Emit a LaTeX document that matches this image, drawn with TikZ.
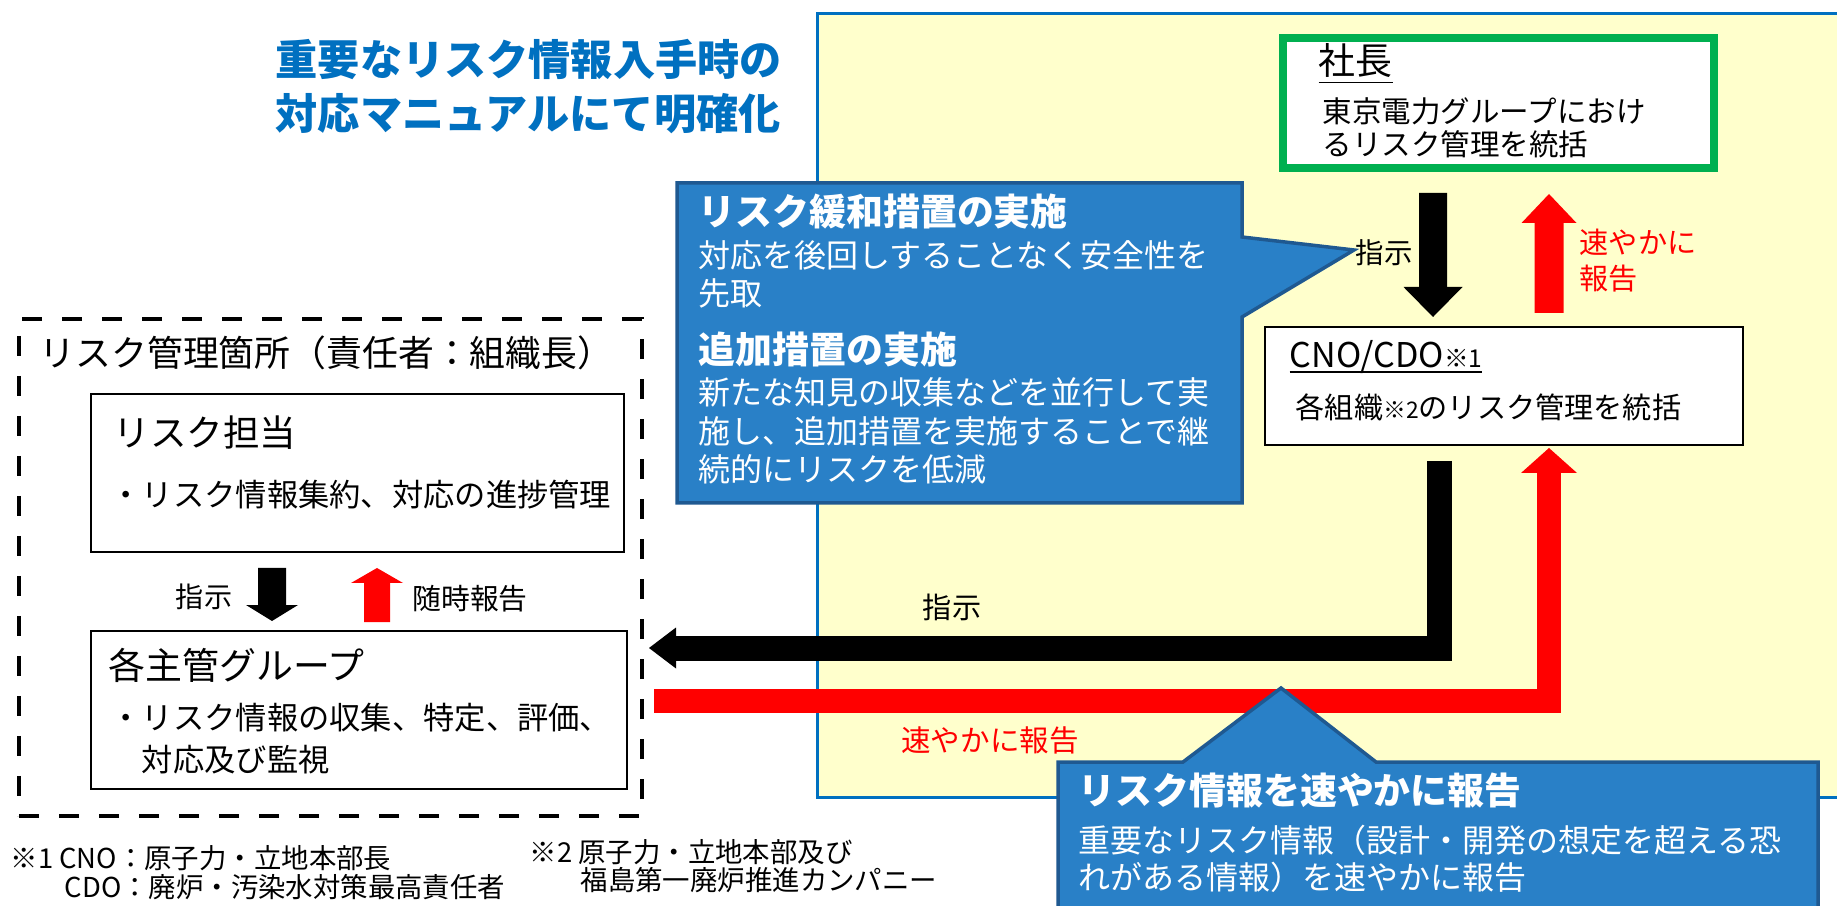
\documentclass[tikz,border=0pt]{standalone}
\usepackage{fontspec}
\setmainfont{Noto Sans CJK JP}
\usetikzlibrary{arrows.meta,positioning}

\definecolor{titleblue}{RGB}{0,112,192}
\definecolor{areayellow}{RGB}{255,255,204}
\definecolor{calloutfill}{RGB}{41,128,199}
\definecolor{calloutdraw}{RGB}{31,89,145}
\definecolor{shachogreen}{RGB}{0,176,80}
\definecolor{hokokured}{RGB}{255,0,0}

\newcommand{\jisize}[2]{\fontsize{#1}{#2}\selectfont}

\tikzset{
	%Define style for boxes
	waku/.style={
		rectangle,
		draw=black, line width=0.2mm,
		fill=white,
		outer sep=0pt, inner sep=0pt},
	kasho/.style={
		rectangle,
		draw=black, line width=0.45mm,
		dash pattern=on 2mm off 2mm,
		outer sep=0pt},
	fukidashi/.style={
		fill=calloutfill, draw=calloutdraw,
		line width=0.35mm, line join=miter},
	% Define text style
	moji/.style={
		inner sep=0pt,
		anchor=west,
		align=left},
	% Define arrow styles
	shiji/.style={draw=black, line join=miter},
	hokoku/.style={draw=hokokured, line join=miter}
}

\begin{document}
\begin{tikzpicture}[x=0.1mm, y=-0.1mm]
	
	\path[use as bounding box, fill=white] (0,0) rectangle (1837,906);
	\clip (0,0) rectangle (1837,906);
	
	\node[rectangle, fill=areayellow, draw=titleblue, line width=0.3mm, outer sep=0pt, inner sep=0pt,
		minimum width=104.3mm, minimum height=78.4mm, anchor=north west] (ryoiki) at (817,14) {};
	
	\node[moji, font=\jisize{12}{15.6}\bfseries, text=titleblue] (midashi) at (275,86.5) {重要なリスク情報入手時の\\対応マニュアルにて明確化};
	
	\node[waku, draw=shachogreen, line width=0.8mm, minimum width=43.1mm, minimum height=13mm] (shacho) at (1498.5,103) {};
	\node[moji, font=\jisize{10.5}{12}] (shacho-mei) at (1318,64) {\underline{社長}};
	\node[moji, font=\jisize{8.4}{9.4}] (shacho-yaku) at (1322,127.5) {東京電力グループにおけ\\るリスク管理を統括};
	
	\node[waku, minimum width=47.8mm, minimum height=11.8mm] (cno) at (1504,386) {};
	\node[moji, font=\jisize{9.7}{11}] (cno-mei) at (1289,357) {\underline{\raisebox{0pt}[\height][0pt]{CNO/CDO{\jisize{7}{7}※1}}}};
	\node[moji, font=\jisize{8.3}{10}] (cno-yaku) at (1295,407) {各組織{\jisize{6.5}{7}※2}のリスク管理を統括};
	
	\node[kasho, minimum width=62.3mm, minimum height=49.7mm] (kasho) at (330.5,567.5) {};
	\node[moji, font=\jisize{10.2}{12}] (kasho-mei) at (39,353) {リスク管理箇所（責任者：組織長）};
	
	\node[waku, minimum width=53.3mm, minimum height=15.8mm] (tanto) at (357.5,473) {};
	\node[moji, font=\jisize{10.4}{12}] (tanto-mei) at (113,433) {リスク担当};
	\node[moji, font=\jisize{8.9}{10}] (tanto-yaku) at (110,495) {・リスク情報集約、対応の進捗管理};
	
	\node[waku, minimum width=53.6mm, minimum height=15.8mm] (shukan) at (359,710) {};
	\node[moji, font=\jisize{10.5}{12}] (shukan-mei) at (108,665) {各主管グループ};
	\node[moji, font=\jisize{8.9}{12}] (shukan-yaku) at (110,739) {・リスク情報の収集、特定、評価、\\　対応及び監視};
	
	% arrows
	\draw[shiji, line width=2.8mm, -{Triangle[length=3mm,width=5.9mm,line width=0pt]}] ([xshift=-6.55mm,yshift=-2.5mm]shacho.south) -- ([xshift=-7.1mm,yshift=1mm]cno.north);
	\draw[hokoku, line width=2.9mm, -{Triangle[length=2.9mm,width=5.5mm,line width=0pt]}] ([xshift=4.5mm,yshift=1.4mm]cno.north) -- ([xshift=5.05mm,yshift=-2.6mm]shacho.south);
	\draw[shiji, line width=2.8mm, -{Triangle[length=1.6mm,width=5.2mm,line width=0pt]}] ([xshift=-8.55mm,yshift=-1.6mm]tanto.south) -- ([xshift=-8.7mm,yshift=1mm]shukan.north);
	\draw[hokoku, line width=2.6mm, -{Triangle[length=1.5mm,width=5.2mm,line width=0pt]}] ([xshift=1.8mm,yshift=0.9mm]shukan.north) -- ([xshift=1.95mm,yshift=-1.6mm]tanto.south);
	\draw[shiji, line width=2.5mm, -{Triangle[length=2.7mm,width=4.1mm,line width=0pt]}] ([xshift=-6.5mm,yshift=-1.6mm]cno.south) |- ([xshift=0.7mm,yshift=-8.05mm]kasho.east);
	\draw[hokoku, line width=2.4mm, -{Triangle[length=2.5mm,width=5.6mm,line width=0pt]}] ([xshift=1.2mm,yshift=-13.35mm]kasho.east) -| ([xshift=4.5mm,yshift=-0.3mm]cno.south);
	
	\node[inner sep=0pt, font=\jisize{8}{9}] (shiji-1) at (204,597) {指示};
	\node[inner sep=0pt, font=\jisize{8.2}{9}] (zuiji) at (470,599) {随時報告};
	\node[inner sep=0pt, font=\jisize{8.1}{9}] (shiji-2) at (1384,253) {指示};
	\node[moji, font=\jisize{8.3}{10}, text=hokokured] (sumiyaka-1) at (1579,260.5) {速やかに\\報告};
	\node[inner sep=0pt, font=\jisize{8.3}{9}] (shiji-3) at (952,607) {指示};
	\node[inner sep=0pt, font=\jisize{8.4}{9}, text=hokokured] (sumiyaka-2) at (990,740) {速やかに報告};
	
	% callouts
	\draw[fukidashi] (677,183) -- (1242,183) -- (1242,237) -- (1354,250) -- (1242,317) -- (1242,503) -- (677,503) -- cycle;
	\node[moji, text=white, font=\jisize{10.5}{12}\bfseries] (kanwa) at (698,212) {リスク緩和措置の実施};
	\node[moji, text=white, font=\jisize{9.1}{10.8}] (kanwa-setsumei) at (698,274) {対応を後回しすることなく安全性を\\先取};
	\node[moji, text=white, font=\jisize{10.5}{12}\bfseries] (tsuika) at (698,350) {追加措置の実施};
	\node[moji, text=white, font=\jisize{9.1}{11}] (tsuika-setsumei) at (698,431) {新たな知見の収集などを並行して実\\施し、追加措置を実施することで継\\続的にリスクを低減};
	
	\draw[fukidashi] (1058,762) -- (1183,762) -- (1281,688) -- (1376,762) -- (1818,762) -- (1818,960) -- (1058,960) -- cycle;
	\node[moji, text=white, font=\jisize{10.5}{12}\bfseries] (sokuho) at (1078,790) {リスク情報を速やかに報告};
	\node[moji, text=white, font=\jisize{9.1}{10.5}] (sokuho-setsumei) at (1078,858.5) {重要なリスク情報（設計・開発の想定を超える恐\\れがある情報）を速やかに報告};
	
	% notes
	\node[moji, font=\jisize{7.8}{9}] (chu1) at (10,858) {※1 CNO：原子力・立地本部長};
	\node[moji, font=\jisize{7.8}{9}] (chu1-cdo) at (64,887) {CDO：廃炉・汚染水対策最高責任者};
	\node[moji, font=\jisize{7.8}{9}] (chu2) at (529,852) {※2 原子力・立地本部及び};
	\node[moji, font=\jisize{7.8}{9}] (chu2-fukushima) at (580,880) {福島第一廃炉推進カンパニー};
	
\end{tikzpicture}
\end{document}
